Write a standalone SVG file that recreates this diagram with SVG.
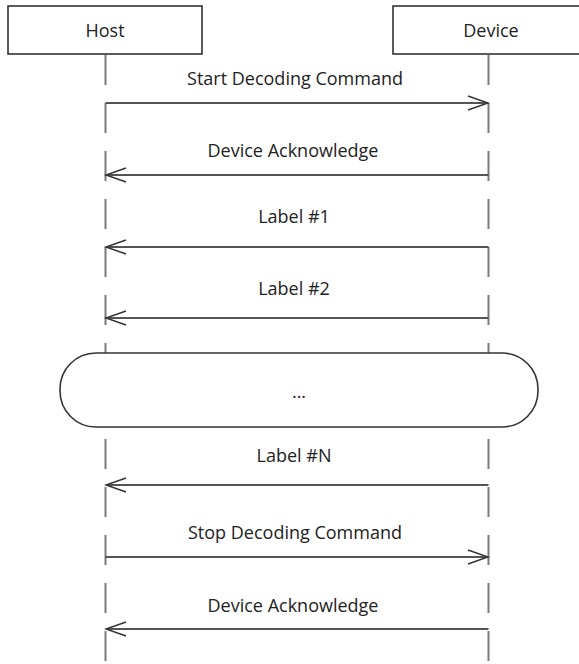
<svg xmlns="http://www.w3.org/2000/svg" width="579" height="664" viewBox="0 0 579 664">
<style>
.box{fill:#fff;stroke:#333;stroke-width:1.6}
.life{stroke:#7a7a7a;stroke-width:2;stroke-dasharray:30 18;fill:none}
.msg{stroke:#555;stroke-width:2;fill:none}
.head{stroke:#333;stroke-width:1.4;fill:none}
text{font-family:"Open Sans","Liberation Sans",sans-serif;font-size:18px;fill:#222;text-anchor:middle}
</style>
<rect width="579" height="664" fill="#fff"/>
<g id="lifelines">
<line class="life" x1="105.5" y1="55" x2="105.5" y2="664"/>
<line class="life" x1="488.5" y1="55" x2="488.5" y2="664"/>
</g>
<g id="host"><rect class="box" x="8" y="6" width="194" height="48"/><text x="105" y="37">Host</text></g>
<g id="device"><rect class="box" x="393" y="6" width="194" height="48"/><text x="491" y="37">Device</text></g>
<g id="connectors">
<line class="msg" x1="105.5" y1="103" x2="488" y2="103"/><path class="head" d="M468,96 L488,103 L468,110"/>
<line class="msg" x1="106" y1="175" x2="488.5" y2="175"/><path class="head" d="M126,168 L106,175 L126,182"/>
<line class="msg" x1="106" y1="247" x2="488.5" y2="247"/><path class="head" d="M126,240 L106,247 L126,254"/>
<line class="msg" x1="106" y1="318" x2="488.5" y2="318"/><path class="head" d="M126,311 L106,318 L126,325"/>
<line class="msg" x1="106" y1="485" x2="488.5" y2="485"/><path class="head" d="M126,478 L106,485 L126,492"/>
<line class="msg" x1="105.5" y1="557" x2="488" y2="557"/><path class="head" d="M468,550 L488,557 L468,564"/>
<line class="msg" x1="106" y1="629" x2="488.5" y2="629"/><path class="head" d="M126,622 L106,629 L126,636"/>
</g>
<g id="labels">
<text x="295" y="85">Start Decoding Command</text>
<text x="293" y="157">Device Acknowledge</text>
<text x="294" y="223">Label #1</text>
<text x="294" y="295">Label #2</text>
<text x="294" y="462">Label #N</text>
<text x="295" y="539">Stop Decoding Command</text>
<text x="293" y="612">Device Acknowledge</text>
</g>
<g id="ellipsis"><rect class="box" x="60" y="353" width="478" height="74" rx="36" ry="36"/><text x="299" y="398">...</text></g>
</svg>
